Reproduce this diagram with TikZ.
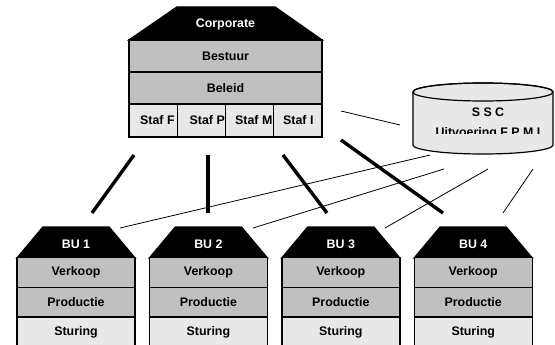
\documentclass[tikz,border=0pt]{standalone}
\usepackage{fontspec}
\setmainfont{Liberation Sans}
\definecolor{cellgray}{RGB}{192,192,192}
\definecolor{palegray}{RGB}{232,232,232}

\begin{document}
\begin{tikzpicture}[x=1pt, y=-1pt,
    every node/.style={font=\fontsize{12.4}{14}\selectfont\bfseries},
    row/.style={draw, line width=1.4pt, inner sep=0pt, minimum width=193pt, minimum height=32pt},
    burow/.style={draw, line width=1.4pt, inner sep=0pt, minimum width=118pt, minimum height=29.5pt},
    heavy/.style={line width=3.4pt},
    thin/.style={line width=0.8pt}]
  \useasboundingbox (0,0) rectangle (555,345);

  % corporate
  \filldraw[line width=1.4pt] (129,40) -- (177,7) -- (275,7) -- (322,40) -- cycle;
  \node[text=white] (corp) at (225.5,24) {Corporate};
  \node[row, fill=cellgray] (bestuur) at (225.5,56) {Bestuur};
  \node[row, fill=cellgray] (beleid) at (225.5,88) {Beleid};
  \foreach \n/\tx [count=\i from 0] in {F/140, P/189.5, M/235, I/283} {
    \node[row, fill=palegray, minimum width=48.25pt, minimum height=33pt] (staf\n) at (153.1+48.25*\i,120.5) {};
    \node[anchor=west, inner sep=0pt] (label\n) at (\tx,120.5) {Staf \n};
  }

  % shared service centre
  \filldraw[fill=palegray, line width=1.2pt] (413,92) -- (413,145)
    arc[start angle=180, end angle=360, x radius=70pt, y radius=9pt] -- (553,92)
    arc[start angle=0, end angle=180, x radius=70pt, y radius=9pt] -- cycle;
  \draw[line width=1.2pt] (483,92) ellipse[x radius=70pt, y radius=9pt];
  \node (ssc) at (488,112) {S S C};
  \begin{scope}
    \clip (413,100) rectangle (553,134);
    \node[anchor=base] (uitvoering) at (488,136.5) {Uitvoering F P M I};
  \end{scope}

  % business units
  \foreach \i in {1,...,4} {
    \pgfmathsetmacro\bx{76+132.4*(\i-1)}
    \filldraw[line width=1.4pt] (\bx-59,258) -- (\bx-33,227) -- (\bx+33,227) -- (\bx+59,258) -- cycle;
    \node[text=white] (bu\i) at (\bx,244) {BU \i};
    \node[burow, fill=cellgray] (verkoop\i) at (\bx,272.5) {Verkoop};
    \node[burow, fill=cellgray] (productie\i) at (\bx,302) {Productie};
    \node[burow, fill=palegray, minimum height=30pt] (sturing\i) at (\bx,332) {Sturing};
  }

  % connectors
  \coordinate (top1) at (134,155);
  \coordinate (top2) at (208,155);
  \coordinate (top3) at (283,155);
  \coordinate (top4) at (341,140);
  \coordinate (low1) at (92,213);
  \coordinate (low2) at (208,213);
  \coordinate (low3) at (327,213);
  \coordinate (low4) at (443,213);
  \foreach \i in {1,...,4}
    \draw[heavy] (top\i) -- (low\i);

  \coordinate (corpside) at (341,111);
  \coordinate (sscside) at (400,125);
  \draw[thin] (corpside) -- (sscside);
  \coordinate (bufrom1) at (120,228);
  \coordinate (bufrom2) at (253,228);
  \coordinate (bufrom3) at (385,228);
  \coordinate (bufrom4) at (503,213);
  \coordinate (sscto1) at (430,155);
  \coordinate (sscto2) at (444,169);
  \coordinate (sscto3) at (488,169);
  \coordinate (sscto4) at (533,169);
  \foreach \i in {1,...,4}
    \draw[thin] (bufrom\i) -- (sscto\i);
\end{tikzpicture}
\end{document}
